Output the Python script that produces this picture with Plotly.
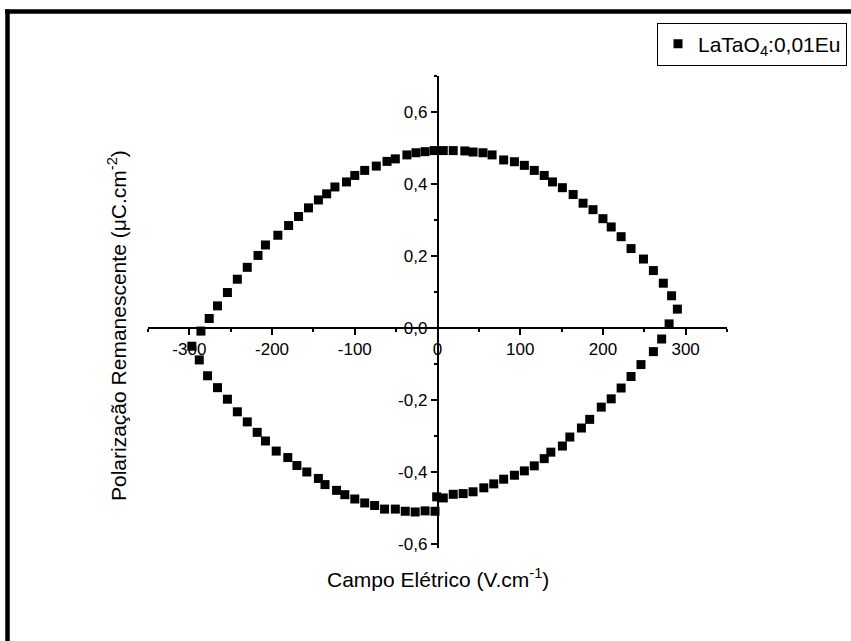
import plotly.graph_objects as go

# P-E hysteresis loop of LaTaO4:0,01Eu
# Upper branch (field sweeping from +E to -E): E in V/cm, P in uC/cm^2
e_upper = [290, 283, 273, 261, 249, 234, 222, 210, 200, 188, 176, 164, 151, 139,
           129, 117, 105, 93, 80, 66, 55, 43, 33, 19, 7, -4, -15, -26, -37, -51,
           -61, -74, -88, -100, -110, -124, -134, -144, -156, -168, -180, -193,
           -208, -217, -230, -242, -254, -266, -276, -286, -297]
p_upper = [0.053, 0.090, 0.125, 0.160, 0.192, 0.221, 0.254, 0.281, 0.304, 0.329,
           0.347, 0.371, 0.390, 0.406, 0.424, 0.438, 0.452, 0.462, 0.467, 0.481,
           0.487, 0.489, 0.492, 0.493, 0.493, 0.493, 0.490, 0.487, 0.481, 0.470,
           0.463, 0.450, 0.438, 0.424, 0.406, 0.392, 0.373, 0.356, 0.334, 0.310,
           0.285, 0.258, 0.231, 0.202, 0.169, 0.136, 0.099, 0.062, 0.027, -0.008,
           -0.050]

# Lower branch (field sweeping from -E back to +E)
e_lower = [-288, -278, -266, -254, -242, -230, -218, -208, -195, -181, -170, -158,
           -144, -136, -122, -112, -100, -88, -76, -64, -51, -39, -27, -15, -3, -1,
           7, 19, 31, 43, 56, 68, 80, 93, 105, 117, 129, 137, 151, 160, 174, 184,
           198, 210, 222, 234, 246, 261, 271, 280]
p_lower = [-0.088, -0.132, -0.165, -0.197, -0.232, -0.260, -0.289, -0.313, -0.341,
           -0.359, -0.381, -0.399, -0.417, -0.434, -0.450, -0.462, -0.474, -0.485,
           -0.492, -0.502, -0.502, -0.508, -0.510, -0.507, -0.508, -0.468, -0.471,
           -0.461, -0.459, -0.454, -0.443, -0.432, -0.419, -0.408, -0.396, -0.382,
           -0.362, -0.344, -0.327, -0.302, -0.277, -0.253, -0.219, -0.196, -0.166,
           -0.134, -0.101, -0.065, -0.030, 0.012]

series_name = "LaTaO<sub>4</sub>:0,01Eu"

x_tick_vals = [-300, -200, -100, 0, 100, 200, 300]
x_tick_text = ["-300", "-200", "-100", "0", "100", "200", "300"]
y_tick_vals = [-0.6, -0.4, -0.2, 0.0, 0.2, 0.4, 0.6]
y_tick_text = ["-0,6", "-0,4", "-0,2", "0,0", "0,2", "0,4", "0,6"]

x_title = "Campo Elétrico (V.cm<sup>-1</sup>)"
y_title = "Polarização Remanescente (μC.cm<sup>-2</sup>)"

FONT = "Liberation Sans, Arial, sans-serif"

W, H = 851, 641
ML, MR, MT, MB = 148, 124, 76, 93
PW, PH = W - ML - MR, H - MT - MB


def fx(px):
    """pixel column -> paper x"""
    return (px - ML) / PW


def fy(py):
    """pixel row -> paper y"""
    return (H - MB - py) / PH


fig = go.Figure()
fig.add_trace(go.Scatter(
    x=e_upper + e_lower,
    y=p_upper + p_lower,
    mode="markers",
    name=series_name,
    marker=dict(symbol="square", size=9, color="black", line=dict(width=0)),
))

axis_common = dict(
    showgrid=False, zeroline=False, showline=True, linecolor="black", linewidth=1.5,
    ticks="outside", ticklen=6, tickwidth=1.5, tickcolor="black",
    tickfont=dict(family=FONT, size=17, color="black"),
    anchor="free", tickmode="array", automargin=False,
)

fig.update_layout(
    width=W, height=H,
    margin=dict(l=ML, r=MR, t=MT, b=MB, autoexpand=False),
    paper_bgcolor="white", plot_bgcolor="white",
    showlegend=True,
    legend=dict(
        xref="container", yref="container",
        x=847 / W, y=1 - 22.5 / H, xanchor="right", yanchor="top",
        bordercolor="black", borderwidth=1, bgcolor="white",
        font=dict(family=FONT, size=21, color="black"),
    ),
    xaxis=dict(
        axis_common, range=[-350, 350], position=0.61 / 1.31,
        tickvals=x_tick_vals, ticktext=x_tick_text,
        minor=dict(dtick=50, tick0=0, ticks="outside", ticklen=3, tickwidth=1.5, tickcolor="black"),
    ),
    yaxis=dict(
        axis_common, range=[-0.61, 0.70], position=0.5,
        tickvals=y_tick_vals, ticktext=y_tick_text,
        minor=dict(dtick=0.1, tick0=0, ticks="outside", ticklen=3, tickwidth=1.5, tickcolor="black"),
    ),
    annotations=[
        dict(text=x_title, xref="paper", yref="paper", x=fx(437.5), y=fy(578),
             xanchor="center", yanchor="middle", showarrow=False,
             font=dict(family=FONT, size=21, color="black")),
        dict(text=y_title, xref="paper", yref="paper", x=fx(117), y=fy(326),
             xanchor="center", yanchor="middle", showarrow=False, textangle=-90,
             font=dict(family=FONT, size=21, color="black")),
    ],
    shapes=[
        # heavy frame along the top and left of the page
        dict(type="line", xref="paper", yref="paper", x0=fx(5), x1=fx(851),
             y0=fy(11.5), y1=fy(11.5), line=dict(color="black", width=4.5)),
        dict(type="line", xref="paper", yref="paper", x0=fx(7.5), x1=fx(7.5),
             y0=fy(9.5), y1=fy(641), line=dict(color="black", width=4.5)),
    ],
)

fig.write_html("out.html")
